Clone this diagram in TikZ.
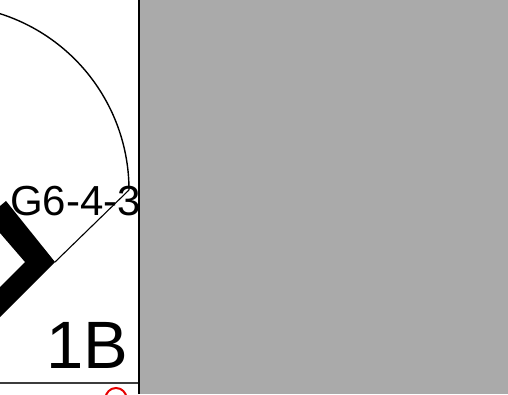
\documentclass[tikz,border=0pt]{standalone}
\usepackage{fontspec}
\setmainfont{Liberation Sans}
\usetikzlibrary{calc}
\definecolor{panel}{RGB}{170,170,170}
\definecolor{rule}{RGB}{60,60,60}
\definecolor{marker}{RGB}{230,0,0}

\begin{document}
\begin{tikzpicture}[x=1pt, y=1pt,
  wall/.style={fill=black, draw=none},
  swing/.style={draw=black, line width=1.4pt},
  leaf/.style={draw=black, line width=1.1pt},
  tag/.style={inner sep=0pt, anchor=base west}]
  \useasboundingbox (0,0) rectangle (508,394);
  \fill[panel] (140,0) rectangle (508,394);
  \draw[line width=2pt] (139,0) -- (139,394);
  \begin{scope}
    \clip (0,0) rectangle (138,394);
    \draw[swing] (129,204) arc[start angle=0, end angle=110, radius=185];
    \draw[marker, line width=2pt] (116,-4.5) circle[radius=10.5];
  \end{scope}
  \draw[rule, line width=1.5pt] (0,11) -- (138,11);
  \fill[wall] (6,193) -- (55,132) -- (0,77) -- (0,107) -- (25,132) -- (0,161) -- (0,188) -- cycle;
  \coordinate (tip) at (55,132);
  \coordinate (hinge) at (129,204);
  \draw[leaf] (tip) -- (hinge);
  \node[tag, font=\fontsize{42}{42}\selectfont] (room) at (10,179) {G6-4-3};
  \node[tag, font=\fontsize{67}{67}\selectfont] (unit) at (46,26) {1B};
\end{tikzpicture}
\end{document}
